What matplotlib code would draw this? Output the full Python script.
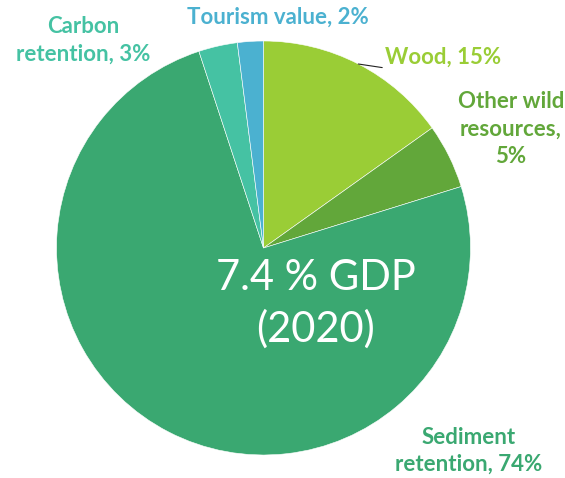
import numpy as np
import matplotlib
matplotlib.use("Agg")
import matplotlib.pyplot as plt

plt.rcParams['font.family'] = ['Lato', 'DejaVu Sans']

# GDP contribution by ecosystem service (%)
names = ["Wood", "Other wild\nresources,\n", "Sediment\nretention", "Carbon\nretention", "Tourism value"]
values = [15, 5, 74, 3, 2]
colors = ["#9ACD36", "#62A73A", "#3AA871", "#45C2A3", "#4BB1D0"]

W, H = 565, 478
fig = plt.figure(figsize=(W / 100, H / 100), dpi=100)
ax = fig.add_axes([0, 0, 1, 1])

cx, cy, r = 263.5, H - 248, 207
wedges, _ = ax.pie(values, colors=colors, startangle=90, counterclock=False,
                   center=(cx, cy), radius=r, frame=True,
                   wedgeprops=dict(edgecolor='white', linewidth=0.4))
ax.set_xlim(0, W)
ax.set_ylim(0, H)
ax.set_aspect('equal')
ax.axis('off')

LABEL_SIZE = 16


def label(i, x, y):
    sep = "" if names[i].endswith("\n") else ", "
    ax.text(x, H - y, f"{names[i]}{sep}{values[i]}%", color=colors[i], fontsize=LABEL_SIZE,
            fontweight='bold', ha='center', va='center', linespacing=1.37, clip_on=False)


# Wood label with a leader line from the wedge's outer edge
w = wedges[0]
mid = np.deg2rad((w.theta1 + w.theta2) / 2)
ex, ey = cx + r * np.cos(mid), cy + r * np.sin(mid)
ax.annotate(f"{names[0]}, {values[0]}%", xy=(ex, ey), xytext=(385, H - 64),
            color=colors[0], fontsize=LABEL_SIZE, fontweight='bold',
            ha='left', va='baseline',
            arrowprops=dict(arrowstyle='-', color='#222222', lw=0.8,
                            shrinkA=0, shrinkB=0, relpos=(0, 0)))

label(1, 511, 129)
label(2, 468.5, 451)
label(3, 83, 40.5)
label(4, 278, 17.5)

ax.text(316, H - 304, "7.4 % GDP\n(2020)", color='white', fontsize=30,
        ha='center', va='center', linespacing=1.4)

fig.savefig("out.png", dpi=100)
